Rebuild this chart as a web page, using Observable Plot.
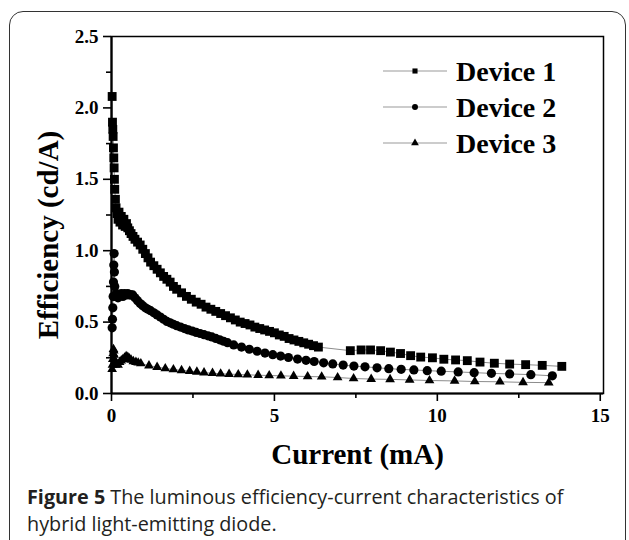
<!DOCTYPE html>
<html><head><meta charset="utf-8">
<script src="https://cdn.jsdelivr.net/npm/d3@7"></script>
<script src="https://cdn.jsdelivr.net/npm/@observablehq/plot@0.6"></script>
<style>
body{margin:0;background:#fff;width:629px;height:540px;overflow:hidden;position:relative;}
#border{position:absolute;left:9px;top:11px;width:617px;height:580px;border:1.6px solid #333;border-radius:14px;box-sizing:border-box;}
#chart{position:relative;width:629px;height:483px;}
#chart svg.plot{display:block;}
#legend{position:absolute;left:0;top:0;}
#caption{position:relative;font-family:"Open Sans",sans-serif;font-size:19.8px;line-height:27px;color:#231f20;padding-left:27px;margin:0;white-space:nowrap;}
</style></head><body>
<div id="border"></div>
<div id="chart"></div>
<div id="caption"><b>Figure 5</b> The luminous efficiency-current characteristics of<br>hybrid light-emitting diode.</div>
<script>
// ---- data ----
const seriesNames = ["Device 1", "Device 2", "Device 3"];
const seriesSymbols = ["square", "circle", "triangle"];

const dev1X = [0.02,0.03,0.04,0.05,0.06,0.07,0.08,0.09,0.10,0.12,0.14,0.17,0.20,0.23,0.26,0.30,0.34,0.38,0.42,0.46,0.50,0.55,0.60,0.66,0.72,0.80,0.88,0.96,1.04,1.12,1.20,1.30,1.40,1.50,1.60,1.70,1.80,1.90,2.00,2.15,2.30,2.45,2.60,2.75,2.90,3.05,3.20,3.35,3.50,3.65,3.80,3.95,4.10,4.25,4.40,4.55,4.70,4.85,5.00,5.15,5.30,5.45,5.60,5.75,5.90,6.05,6.20,6.35,7.33,7.66,7.95,8.26,8.56,8.87,9.18,9.49,9.85,10.2,10.56,10.92,11.31,11.75,12.22,12.71,13.22,13.82];
const dev1Y = [2.08,1.90,1.85,1.80,1.72,1.65,1.58,1.50,1.43,1.36,1.30,1.26,1.22,1.27,1.20,1.24,1.18,1.22,1.17,1.19,1.16,1.14,1.12,1.10,1.08,1.06,1.04,1.01,0.98,0.95,0.92,0.895,0.87,0.845,0.82,0.80,0.78,0.75,0.73,0.705,0.68,0.66,0.64,0.625,0.605,0.59,0.575,0.56,0.545,0.53,0.515,0.50,0.49,0.48,0.465,0.455,0.445,0.435,0.425,0.41,0.40,0.385,0.375,0.365,0.355,0.345,0.335,0.325,0.30,0.305,0.305,0.30,0.29,0.28,0.265,0.255,0.25,0.24,0.235,0.23,0.22,0.212,0.206,0.202,0.197,0.19];

const dev2X = [0.02,0.03,0.04,0.05,0.06,0.07,0.08,0.09,0.10,0.12,0.15,0.20,0.25,0.30,0.35,0.40,0.45,0.50,0.55,0.60,0.65,0.72,0.80,0.88,0.96,1.04,1.12,1.20,1.30,1.40,1.50,1.60,1.70,1.80,1.90,2.00,2.12,2.24,2.36,2.48,2.60,2.72,2.84,2.96,3.08,3.20,3.32,3.44,3.56,3.75,3.99,4.23,4.47,4.71,4.95,5.19,5.43,5.71,5.97,6.22,6.51,6.79,7.11,7.44,7.78,8.15,8.51,8.89,9.28,9.69,10.12,10.64,11.13,11.66,12.22,12.87,13.53];
const dev2Y = [0.46,0.52,0.60,0.68,0.78,0.90,0.98,0.85,0.75,0.68,0.70,0.67,0.69,0.70,0.68,0.70,0.69,0.70,0.69,0.69,0.69,0.67,0.65,0.63,0.615,0.60,0.59,0.58,0.565,0.55,0.535,0.52,0.505,0.495,0.485,0.475,0.465,0.455,0.445,0.437,0.428,0.42,0.412,0.404,0.396,0.386,0.376,0.366,0.356,0.34,0.325,0.31,0.296,0.283,0.272,0.262,0.252,0.241,0.232,0.224,0.215,0.207,0.199,0.192,0.187,0.18,0.174,0.169,0.165,0.16,0.156,0.151,0.146,0.141,0.137,0.132,0.124];

const dev3X = [0.02,0.03,0.04,0.05,0.06,0.07,0.08,0.09,0.10,0.12,0.15,0.20,0.25,0.30,0.35,0.40,0.45,0.50,0.55,0.60,0.67,0.75,0.82,0.90,1.15,1.40,1.65,1.90,2.15,2.40,2.62,2.84,3.10,3.35,3.61,3.89,4.17,4.50,4.84,5.20,5.59,6.02,6.45,6.94,7.43,7.97,8.55,9.15,9.76,10.53,11.15,11.92,12.63,13.42];
const dev3Y = [0.17,0.20,0.24,0.28,0.31,0.30,0.27,0.24,0.22,0.20,0.21,0.20,0.22,0.23,0.24,0.25,0.26,0.255,0.245,0.235,0.225,0.22,0.215,0.21,0.195,0.185,0.175,0.168,0.162,0.157,0.151,0.146,0.142,0.138,0.136,0.133,0.131,0.128,0.126,0.124,0.121,0.119,0.117,0.112,0.105,0.101,0.099,0.095,0.091,0.088,0.084,0.082,0.078,0.076];

const xMajorTicks = [0, 5, 10, 15];
const xMinorTicks = [2.5, 7.5, 12.5];
const yMajorTicks = [0, 0.5, 1.0, 1.5, 2.0, 2.5];
const yMinorTicks = [0.25, 0.75, 1.25, 1.75, 2.25];
const xLabel = "Current (mA)";
const yLabel = "Efficiency (cd/A)";

// ---- build tables ----
const toRows = (xs, ys) => xs.map((x, i) => ({x, y: ys[i]}));
const series = [toRows(dev1X, dev1Y), toRows(dev2X, dev2Y), toRows(dev3X, dev3Y)];
const symbolR = [5.0, 4.6, 3.6];

const serif = "'Liberation Serif','Times New Roman',serif";

const plot = Plot.plot({
  width: 629, height: 483,
  marginLeft: 111, marginRight: 26, marginTop: 36, marginBottom: 90,
  x: {domain: [0, 15.1]},
  y: {domain: [0, 2.5]},
  style: {fontFamily: serif, fontWeight: "bold", fontSize: "19px", color: "#000", background: "transparent", overflow: "visible"},
  marks: [
    Plot.frame({strokeWidth: 1.5}),
    Plot.axisX({ticks: xMajorTicks, tickSize: 8, tickPadding: 7, tickFormat: d => String(d), strokeWidth: 1.6, label: null}),
    Plot.axisX({ticks: xMinorTicks, tickSize: 5, tickFormat: () => "", strokeWidth: 1.6, label: null}),
    Plot.axisY({ticks: yMajorTicks, tickSize: 8, tickPadding: 5, tickFormat: ".1f", strokeWidth: 1.6, label: null}),
    Plot.axisY({ticks: yMinorTicks, tickSize: 5, tickFormat: () => "", strokeWidth: 1.6, label: null}),
    ...series.map(rows => Plot.line(rows, {x: "x", y: "y", stroke: "#8c8c8c", strokeWidth: 1})),
    ...series.map((rows, i) => Plot.dot(rows, {x: "x", y: "y", symbol: seriesSymbols[i], r: symbolR[i], fill: "#000", stroke: "none"})),
    Plot.ruleX([0], {strokeWidth: 2.2}),
    Plot.ruleY([0], {strokeWidth: 2.2}),
    Plot.text([xLabel], {text: d => d, frameAnchor: "bottom", textAnchor: "middle", lineAnchor: "middle", dy: 61, fontSize: 29}),
    Plot.text([yLabel], {text: d => d, frameAnchor: "left", textAnchor: "middle", lineAnchor: "middle", dx: -63, dy: 20, rotate: -90, fontSize: 29})
  ]
});
document.getElementById("chart").appendChild(plot);

// ---- legend (overlay) ----
const lg = d3.select("#chart").append("svg").attr("id", "legend").attr("width", 629).attr("height", 200);
const symMap = {square: d3.symbolSquare, circle: d3.symbolCircle, triangle: d3.symbolTriangle};
const legendSizes = [26, 28, 26];
seriesNames.forEach((name, i) => {
  const cy = 71 + i * 36;
  lg.append("line").attr("x1", 383).attr("x2", 447).attr("y1", cy).attr("y2", cy)
    .attr("stroke", "#999").attr("stroke-width", 1);
  lg.append("path").attr("d", d3.symbol(symMap[seriesSymbols[i]], legendSizes[i])())
    .attr("transform", `translate(415,${cy})`).attr("fill", "#000");
  lg.append("text").attr("x", 456).attr("y", cy + 10).text(name)
    .attr("font-family", serif).attr("font-weight", "bold").attr("font-size", 28).attr("fill", "#000");
});
</script>
</body></html>
